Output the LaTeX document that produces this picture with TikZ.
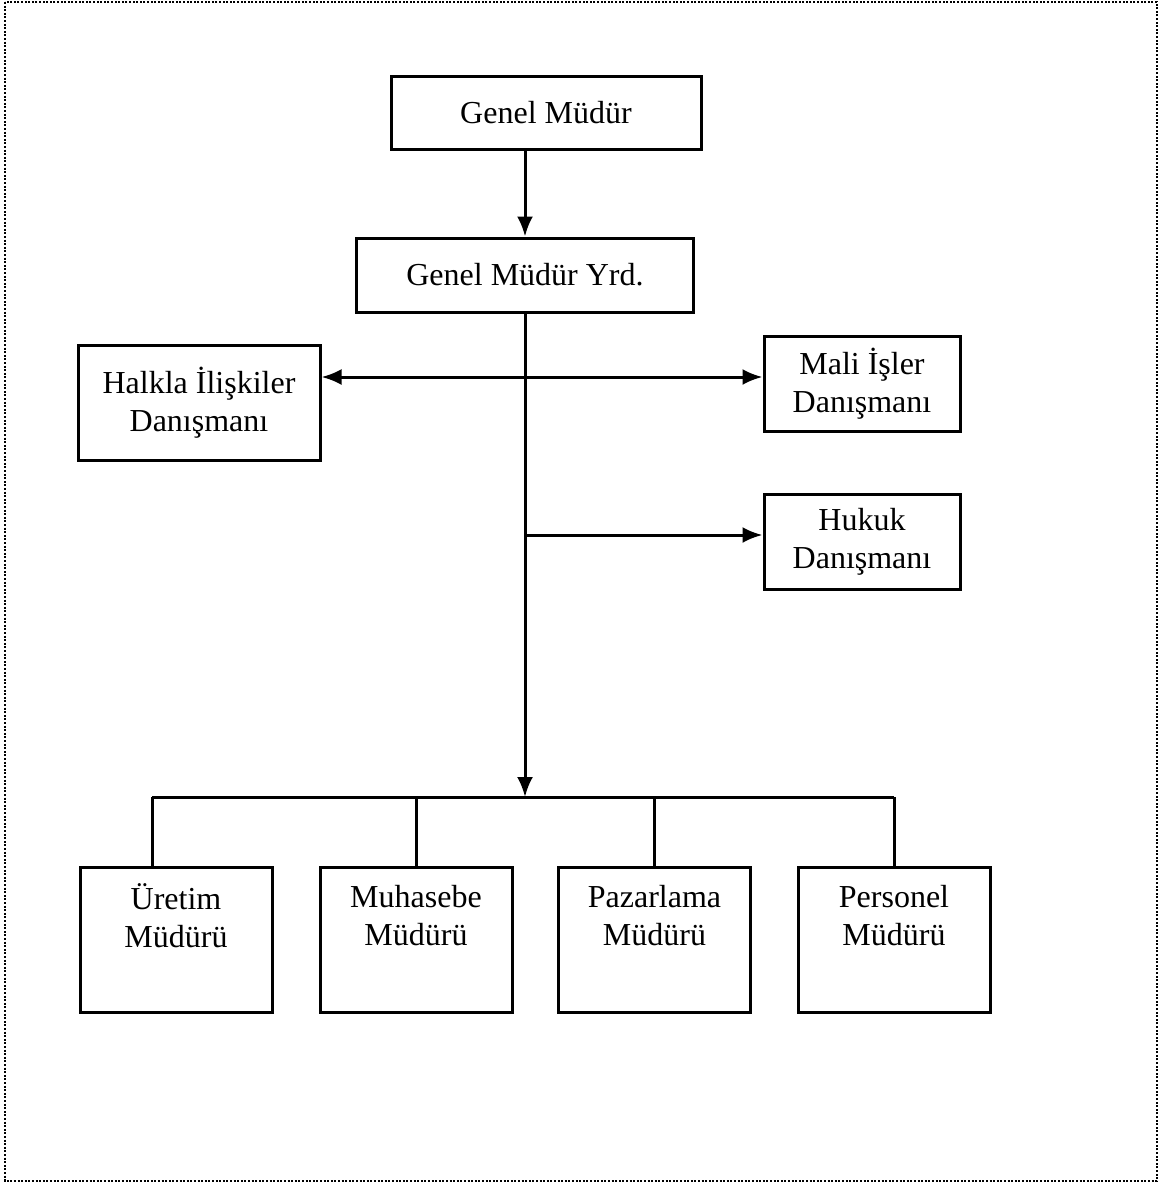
\documentclass[tikz,border=0pt]{standalone}
\usepackage{fontspec}
\setmainfont{Liberation Serif}
\usetikzlibrary{arrows.meta, positioning}

\begin{document}
\begin{tikzpicture}[x=1pt, y=-1pt, line width=3pt,
    kutu/.style={draw, rectangle, align=center, inner sep=0pt, font=\fontsize{32}{38}\selectfont},
    ok/.style={-{Latex[length=20pt,width=16pt]}}]
        % Cerceve
        \useasboundingbox (0,0) rectangle (1162,1183);
        \draw[line width=2.4pt, dash pattern=on 2pt off 1.6pt] (5,2) rectangle (1157,1181);

        % Ust yonetim
        \node[kutu, minimum width=310, minimum height=73] (gm) at (546,112.5) {Genel Müdür};
        \node[kutu, minimum width=337, minimum height=74] (yrd) at (525,275) {Genel Müdür Yrd.};
        \draw[ok] (yrd.north |- gm.south) -- (yrd.north);

        % Danismanlar
        \node[kutu, minimum width=242, minimum height=115] (halkla) at (199,402.5) {Halkla İlişkiler\\Danışmanı};
        \node[kutu, minimum width=196, minimum height=95] (mali) at (862,383.5) {Mali İşler\\Danışmanı};
        \node[kutu, minimum width=196, minimum height=95] (hukuk) at (862,541.5) {Hukuk\\Danışmanı};

        % Mudurlukler
        \foreach \ad/\x/\isim in {uretim/176/Üretim, muhasebe/416/Muhasebe, pazarlama/654.5/Pazarlama, personel/894/Personel} {
            \node[kutu, minimum width=192, minimum height=145] (\ad) at (\x,939.5) {\isim\\Müdürü\\[10pt]~};
        }

        % Ana hat ve baglantilar
        \coordinate (cizgi) at (525,797);
        \coordinate (catal) at (525,377);
        \coordinate (hukukcatal) at (525,535);
        \draw[ok] (yrd.south) -- (cizgi);
        \draw[{Latex[length=20pt,width=16pt]}-{Latex[length=20pt,width=16pt]}] (halkla.east |- catal) -- (mali.west |- catal);
        \draw[ok] (hukukcatal) -- (hukuk.west |- hukukcatal);

        % Yatay cizgi ve inisler
        \draw ([xshift=-24pt]uretim.north |- cizgi) -- (personel.north |- cizgi);
        \draw ([xshift=-24pt]uretim.north |- cizgi) -- ([xshift=-24pt]uretim.north);
        \foreach \ad in {muhasebe, pazarlama, personel} {
            \draw (\ad.north |- cizgi) -- (\ad.north);
        }
\end{tikzpicture}
\end{document}
